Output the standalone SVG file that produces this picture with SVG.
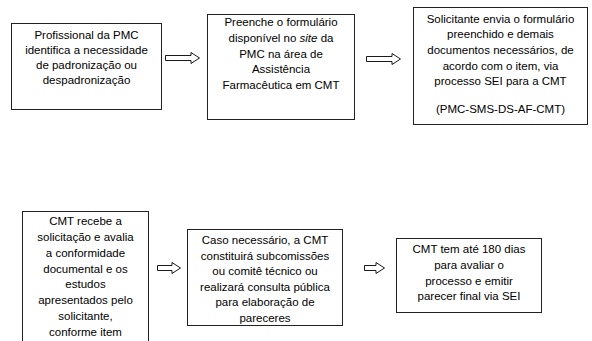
<svg xmlns="http://www.w3.org/2000/svg" width="592" height="341" viewBox="0 0 592 341">
<style>
.box{fill:#fff;stroke:#222;stroke-width:1}
.t{font-family:"Liberation Sans",Arial,sans-serif;font-size:11.5px;fill:#000;text-anchor:middle}
.ar{fill:#fff;stroke:#000;stroke-width:0.9}
</style>
<rect width="592" height="341" fill="#fff"/>
<g id="connectors">
<path class="ar" d="M165.5,55.5 H191 V52.5 L199.5,58 L191,63.5 V60.5 H165.5 Z"/>
<path class="ar" d="M366.5,56.5 H392 V53.5 L400.5,59 L392,64.5 V61.5 H366.5 Z"/>
<path class="ar" d="M157.5,265.5 H172 V262.5 L180.5,268 L172,273.5 V270.5 H157.5 Z"/>
<path class="ar" d="M364.5,265.5 H376 V262.5 L384.5,268 L376,273.5 V270.5 H364.5 Z"/>
</g>
<g id="n1">
<rect class="box" x="11.5" y="23.5" width="150" height="86"/>
<text class="t" x="86.5" y="39">Profissional da PMC</text>
<text class="t" x="86.5" y="54">identifica a necessidade</text>
<text class="t" x="86.5" y="69">de padronização ou</text>
<text class="t" x="86.5" y="84">despadronização</text>
</g>
<g id="n2">
<rect class="box" x="207.5" y="14.5" width="147" height="105"/>
<text class="t" x="281" y="26">Preenche o formulário</text>
<text class="t" x="281" y="42">disponível no <tspan font-style="italic">site</tspan> da</text>
<text class="t" x="281" y="58">PMC na área de</text>
<text class="t" x="281" y="73">Assistência</text>
<text class="t" x="281" y="89">Farmacêutica em CMT</text>
</g>
<g id="n3">
<rect class="box" x="413.5" y="7.5" width="174" height="117"/>
<text class="t" x="500.5" y="23">Solicitante envia o formulário</text>
<text class="t" x="500.5" y="38">preenchido e demais</text>
<text class="t" x="500.5" y="54">documentos necessários, de</text>
<text class="t" x="500.5" y="70">acordo com o item, via</text>
<text class="t" x="500.5" y="85">processo SEI para a CMT</text>
<text class="t" x="500.5" y="113">(PMC-SMS-DS-AF-CMT)</text>
</g>
<g id="n4">
<rect class="box" x="22.5" y="211.5" width="126" height="140"/>
<text class="t" x="85.5" y="225">CMT recebe a</text>
<text class="t" x="85.5" y="241">solicitação e avalia</text>
<text class="t" x="85.5" y="257">a conformidade</text>
<text class="t" x="85.5" y="273">documental e os</text>
<text class="t" x="85.5" y="288">estudos</text>
<text class="t" x="85.5" y="304">apresentados pelo</text>
<text class="t" x="85.5" y="320">solicitante,</text>
<text class="t" x="85.5" y="336">conforme item</text>
</g>
<g id="n5">
<rect class="box" x="187.5" y="229.5" width="155" height="96"/>
<text class="t" x="265" y="244">Caso necessário, a CMT</text>
<text class="t" x="265" y="260">constituirá subcomissões</text>
<text class="t" x="265" y="275">ou comitê técnico ou</text>
<text class="t" x="265" y="291">realizará consulta pública</text>
<text class="t" x="265" y="306">para elaboração de</text>
<text class="t" x="265" y="322">pareceres</text>
</g>
<g id="n6">
<rect class="box" x="396.5" y="238.5" width="145" height="74"/>
<text class="t" x="469" y="253">CMT tem até 180 dias</text>
<text class="t" x="469" y="269">para avaliar o</text>
<text class="t" x="469" y="285">processo e emitir</text>
<text class="t" x="469" y="300">parecer final via SEI</text>
</g>
</svg>
